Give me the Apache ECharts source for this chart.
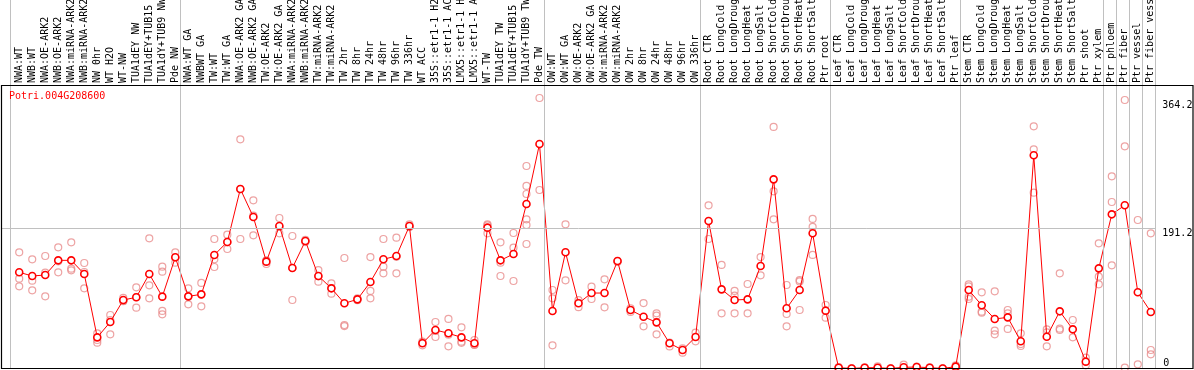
<!DOCTYPE html>
<html>
<head>
<meta charset="utf-8">
<script src="https://cdn.jsdelivr.net/npm/echarts@6/dist/echarts.min.js"></script>
<style>html,body{margin:0;padding:0;background:#fff}#c{width:1194px;height:370px}</style>
</head>
<body>
<div id="c"></div>
<script>
const geneId = 'Potri.004G208600';
const categories = [
 'NWA:WT','NWB:WT','NWA:OE-ARK2','NWB:OE-ARK2','NWA:miRNA-ARK2','NWB:miRNA-ARK2','NW 0hr','WT H2O','WT-NW','TUA1dEY NW','TUA1dEY+TUB15','TUA1dY+TUB9 NW','Pde NW',
 'NWA:WT GA','NWBWT GA','TW:WT','TW:WT GA','NWA:OE-ARK2 GA','NWB:OE-ARK2 GA','TW:OE-ARK2','TW:OE-ARK2 GA','NWA:miRNA-ARK2 GA','NWB:miRNA-ARK2 GA','TW:miRNA-ARK2','TW:miRNA-ARK2 GA',
 'TW 2hr','TW 8hr','TW 24hr','TW 48hr','TW 96hr','TW 336hr','WT ACC','35S::etr1-1 H2O','35S::etr1-1 ACC','LMX5::etr1-1 H2O','LMX5::etr1-1 ACC','WT-TW','TUA1dEY TW','TUA1dEY+TUB15 TW','TUA1dY+TUB9 TW','Pde TW',
 'OW:WT','OW:WT GA','OW:OE-ARK2','OW:OE-ARK2 GA','OW:miRNA-ARK2','OW:miRNA-ARK2 GA','OW 2hr','OW 8hr','OW 24hr','OW 48hr','OW 96hr','OW 336hr',
 'Root CTR','Root LongCold','Root LongDrought','Root LongHeat','Root LongSalt','Root ShortCold','Root ShortDrought','Root ShortHeat','Root ShortSalt','Ptr root',
 'Leaf CTR','Leaf LongCold','Leaf LongDrought','Leaf LongHeat','Leaf LongSalt','Leaf ShortCold','Leaf ShortDrought','Leaf ShortHeat','Leaf ShortSalt','Ptr leaf',
 'Stem CTR','Stem LongCold','Stem LongDrought','Stem LongHeat','Stem LongSalt','Stem ShortCold','Stem ShortDrought','Stem ShortHeat','Stem ShortSalt','Ptr shoot','Ptr xylem',
 'Ptr phloem','Ptr fiber','Ptr vessel','Ptr fiber vessel'
];
const means = [
 130.9,125.9,127.2,147.2,147.2,128.6,42.4,63.3,93.2,96.9,128.6,97.8,151.3,
 98.2,100.9,154.5,172.2,244.3,206.2,145.4,193.9,136.8,173.5,125.9,109.1,
 88.7,94.1,117.7,148.6,153.1,193.9,34.3,52.4,47.9,42.4,34.3,191.7,147.2,155.8,223.9,305.5,
 78.3,158.1,88.7,102.7,102.7,146.3,79.6,70.5,62.8,34.3,25.2,42.9,
 200.7,107.7,93.2,94.1,139.5,257.4,81.9,106.8,184.0,78.7,
 1.1,0.1,1.1,1.1,0.1,1.6,2.0,1.1,0.1,2.5,
 106.8,86.0,67.4,69.6,37.0,290.1,43.3,77.8,53.3,9.3,136.3,
 209.8,222.1,103.7,76.9
];
const replicates = [
 [158.1,122.3,111.8],[148.6,119.5,106.4],[153.1,130.4,98.2],[164.9,130.9,145.8],[171.7,135.9,133.6],[143.6,131.3,109.1],
 [47.9,38.8,35.2],[72.8,46.5,66.0],[96.0,92.0,91.5],[110.5,82.8,97.0],[177.1,113.2,95.5],[138.6,131.8,78.3,73.7],[158.1,144.0,151.0],
 [109.1,87.3,98.0],[116.4,84.6,101.0],[176.2,148.6,138.1],[182.1,162.6,172.0],[311.9,176.2,244.0],[228.9,181.2,208.0],
 [146.8,142.2,147.0],[204.8,184.0,193.0],[180.3,93.2,137.0],[175.0,173.5,172.0],[134.0,118.2,125.5],[115.9,101.8,109.5],
 [150.4,59.2,57.8],[95.5,93.0,94.0],[151.7,105.5,95.5],[176.2,138.6,129.5],[178.1,129.5,152.0],[196.0,193.0,192.5],
 [36.5,31.6,34.8],[63.3,42.9,51.0],[67.4,30.2,46.0],[56.0,36.5,35.0],[38.8,32.0,32.2],[196.2,184.0,194.8],
 [171.7,125.9,144.0],[184.4,164.4,119.1],[275.6,248.4,237.5,203.0,195.3,169.4],[368.1,242.9],
 [106.8,95.5,31.5],[196.2,120.0],[93.0,83.5,89.5],[111.4,94.6],[121.4,83.2],[146.3,145.0],[82.0,77.0],[89.1,57.4],
 [75.1,71.9,46.5],[35.2,30.0],[27.5,21.5],[48.8,37.0],
 [222.1,176.2],[140.9,75.1],[105.5,99.1,75.1],[115.0,75.1],[151.7,126.8],[328.7,241.1,203.0],[113.6,74.2,57.4],
 [120.4,118.5,79.6],[203.5,192.6,154.5],[86.4,69.2],
 [0.5,0.8,2.0],[0.0,0.2],[0.6,1.5],[0.4,2.8],[0.0,0.3],[5.2,0.0,0.0],[1.5,2.5],[0.6,1.4],[0.0,0.2],[4.3,1.0,2.2],
 [114.5,111.8,97.8,94.6],[103.7,77.3,76.0],[105.0,51.5,46.5],[79.6,75.1,53.8],[47.9,33.3,30.6],[329.6,298.3,239.3],
 [53.3,49.2,30.2],[129.5,54.2,52.4],[66.0,42.4],[14.7,4.3],[170.3,125.0,114.5],
 [261.5,226.6,140.4],[365.4,302.4,1.1],[202.1,5.7],[184.0,25.2,19.3]
];
const groupStarts = [0,13,41,53,63,73,84,85,86,87,88];
const yTickLabels = [191.2,364.2];
const yZeroLabel = [0];
const yRefLine = 191.2;

const MONO = 'DejaVu Sans Mono';
const xMin = -1.347, xMax = 87.345, lineOff = 0.655, yMax = 385.8;

const chart = echarts.init(document.getElementById('c'), null, {renderer:'canvas'});
const repData = [];
replicates.forEach((arr,i)=>arr.forEach(v=>repData.push([i,v])));
const meanData = means.map((v,i)=>[i,v]);
const sepLines = groupStarts.map(s=>({xAxis: s - lineOff}));
const mlCommon = {silent:true, symbol:['none','none'], label:{show:false}, lineStyle:{color:'#c0c0c0', type:'solid', width:1}, animation:false};

chart.setOption({
 animation:false,
 title:{text:geneId, left:9, top:91, padding:0, textStyle:{color:'#ff0000', fontFamily:MONO, fontSize:10, fontWeight:'normal'}},
 grid:[
  {left:1.7, top:85, width:1153.6, height:283.5, containLabel:false, outerBoundsMode:'none'},
  {left:1.7, top:0, width:1153.6, height:85, containLabel:false, outerBoundsMode:'none'}
 ],
 xAxis:[
  {type:'value', gridIndex:0, position:'top', min:xMin, max:xMax,
   axisLine:{show:false, onZero:false}, axisTick:{show:false}, splitLine:{show:false},
   axisLabel:{show:true, customValues:categories.map((c,i)=>i), rotate:-90, margin:2, hideOverlap:false,
     formatter:(v)=>categories[Math.round(v)], fontFamily:MONO, fontSize:10, color:'#000'}},
  {type:'value', gridIndex:1, min:xMin, max:xMax, show:false}
 ],
 yAxis:[
  {type:'value', gridIndex:0, position:'right', min:0, max:yMax, offset:0,
   axisLine:{show:false}, axisTick:{show:false}, splitLine:{show:false},
   axisLabel:{customValues:yTickLabels, margin:7, verticalAlign:'top', fontFamily:MONO, fontSize:10, color:'#000', formatter:(v)=>String(v)}},
  {type:'value', gridIndex:0, position:'right', min:0, max:yMax, offset:0,
   axisLine:{show:false}, axisTick:{show:false}, splitLine:{show:false},
   axisLabel:{customValues:yZeroLabel, margin:8, verticalAlign:'bottom', fontFamily:MONO, fontSize:10, color:'#000', formatter:(v)=>String(v)}},
  {type:'value', gridIndex:1, min:0, max:1, show:false}
 ],
 graphic:[
  {type:'rect', z:100, silent:true, shape:{x:1.5, y:85.5, width:1191.5, height:283}, style:{fill:'none', stroke:'#000', lineWidth:1.2}}
 ],
 series:[
  {type:'line', xAxisIndex:0, yAxisIndex:0, data:[], z:1,
   markLine:Object.assign({}, mlCommon, {data: sepLines.concat([{yAxis:yRefLine}])})},
  {type:'line', xAxisIndex:1, yAxisIndex:2, data:[], z:1,
   markLine:Object.assign({}, mlCommon, {data: sepLines})},
  {type:'scatter', xAxisIndex:0, yAxisIndex:0, data:repData, z:2, symbol:'circle', symbolSize:7,
   itemStyle:{color:'rgba(0,0,0,0)', borderColor:'#e88c8c', borderWidth:1.2}},
  {type:'line', xAxisIndex:0, yAxisIndex:0, data:meanData, z:3, symbol:'circle', symbolSize:7,
   lineStyle:{color:'#ff0000', width:1}, itemStyle:{color:'#ffffff', borderColor:'#ff0000', borderWidth:1.6}}
 ]
});
</script>
</body>
</html>
